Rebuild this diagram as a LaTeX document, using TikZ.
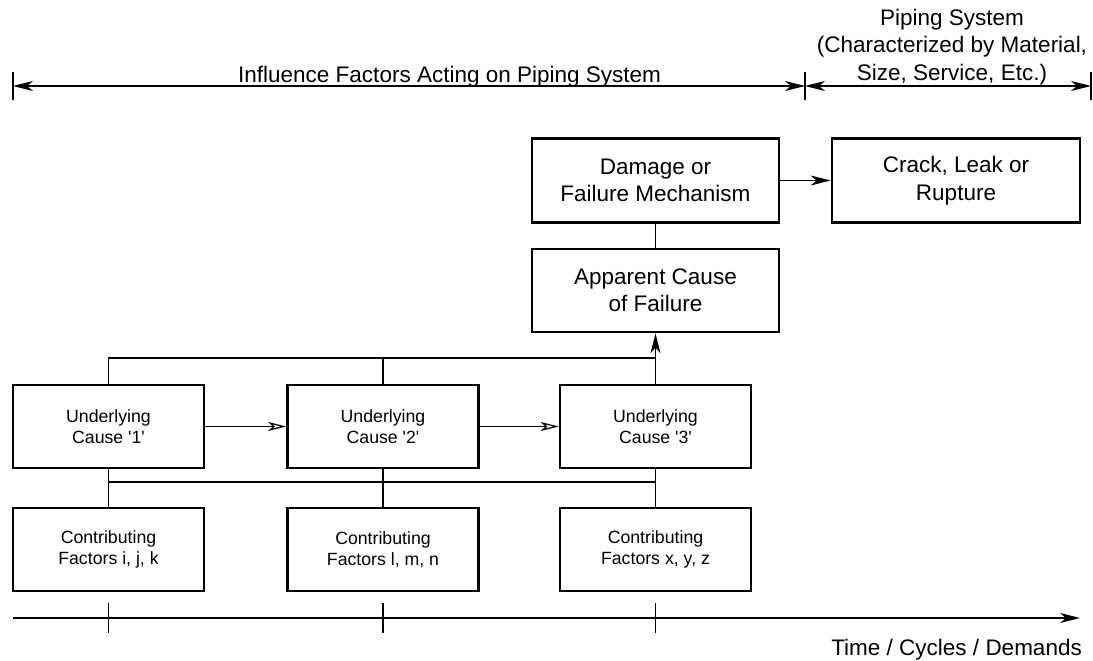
\documentclass[tikz,border=0pt]{standalone}
\usepackage{fontspec}
\setmainfont{Liberation Sans}
\usetikzlibrary{arrows.meta}
\newcommand\BigTxt{\fontsize{22.5}{27.5}\selectfont}
\newcommand\SmallTxt{\fontsize{17.7}{21}\selectfont}
\begin{document}
\begin{tikzpicture}[x=1pt,y=-1pt,
  bigbox/.style={draw, line width=2.8pt, minimum width=247pt, minimum height=84pt, align=center, font=\BigTxt, inner sep=0pt},
  smallbox/.style={draw, line width=2.8pt, minimum width=191pt, minimum height=83pt, align=center, font=\SmallTxt, inner sep=0pt},
  conn/.style={line width=1.2pt},
  dimline/.style={line width=1.4pt},
  fillarrow/.style={-{Stealth[length=20pt,width=10pt,inset=6pt]}},
  dblarrow/.style={{Stealth[length=20pt,width=10pt,inset=6pt]}-{Stealth[length=20pt,width=10pt,inset=6pt]}},
  openarrow/.style={-{Stealth[open,length=18pt,width=9pt,inset=5pt]}},
  lbl/.style={font=\BigTxt, inner sep=0pt}
]
\fill[white] (0,0) rectangle (1093,661);
\useasboundingbox (0,0) rectangle (1093,661);

% boxes
\node[bigbox] (dmg) at (655.5,180.5) {Damage or\\Failure Mechanism};
\node[bigbox, minimum width=248pt] (crk) at (956,180.5) {Crack, Leak or\\Rupture};
\node[bigbox, minimum height=83pt] (app) at (655.5,290.5) {Apparent Cause\\of Failure};

\node[smallbox] (u1) at (108.5,426.5) {Underlying\\Cause \textquotesingle1\textquotesingle};
\node[smallbox] (u2) at (383,426.5) {Underlying\\Cause \textquotesingle2\textquotesingle};
\node[smallbox] (u3) at (655.5,426.5) {Underlying\\Cause \textquotesingle3\textquotesingle};

\node[smallbox] (c1) at (108.5,549.5) {Contributing\\Factors i, j, k};
\node[smallbox] (c2) at (383,549.5) {Contributing\\Factors l, m, n};
\node[smallbox] (c3) at (655.5,549.5) {Contributing\\Factors x, y, z};

% connectors
\draw[conn, fillarrow] (dmg.east) -- (crk.west);
\draw[conn] (dmg.south) -- (app.north);

\coordinate (bus) at (0,358);
\coordinate (bus2) at (0,482);
\draw[conn] (u1.north) -- (u1.north |- bus) -- (u3.north |- bus);
\draw[conn] (u2.north) -- (u2.north |- bus);
\draw[conn, fillarrow] (u3.north) -- (app.south);

\draw[conn, openarrow] (u1.east) -- (u2.west);
\draw[conn, openarrow] (u2.east) -- (u3.west);

\draw[conn] (u1.south) -- (c1.north);
\draw[conn] (u2.south) -- (c2.north);
\draw[conn] (u3.south) -- (c3.north);
\draw[conn] (u1.south |- bus2) -- (u3.south |- bus2);

% top dimension line
\coordinate (dL) at (13,86);
\coordinate (dM) at (805,86);
\coordinate (dR) at (1091,86);
\draw[dimline, dblarrow] (dL) -- (dM);
\draw[dimline, dblarrow] (dM) -- (dR);
\draw[conn] ([yshift=-14pt]dL) -- ([yshift=14pt]dL);
\draw[conn] ([yshift=-14pt]dM) -- ([yshift=14pt]dM);
\draw[conn] ([yshift=-14pt]dR) -- ([yshift=14pt]dR);

\node[lbl, anchor=base west] (inf) at (238,83) {Influence Factors Acting on Piping System};
\node[lbl, anchor=south, align=center] (pip) at (952,85) {Piping System\\(Characterized by Material,\\Size, Service, Etc.)};

% time axis
\coordinate (t0) at (13,618);
\coordinate (t1) at (1080,618);
\draw[dimline, fillarrow] (t0) -- (t1);
\foreach \n in {c1,c2,c3}{
  \draw[conn] (\n.south |- 0,603) -- (\n.south |- 0,633);
}
\node[lbl, anchor=base east] (time) at (1082,655) {Time / Cycles / Demands};
\end{tikzpicture}
\end{document}
